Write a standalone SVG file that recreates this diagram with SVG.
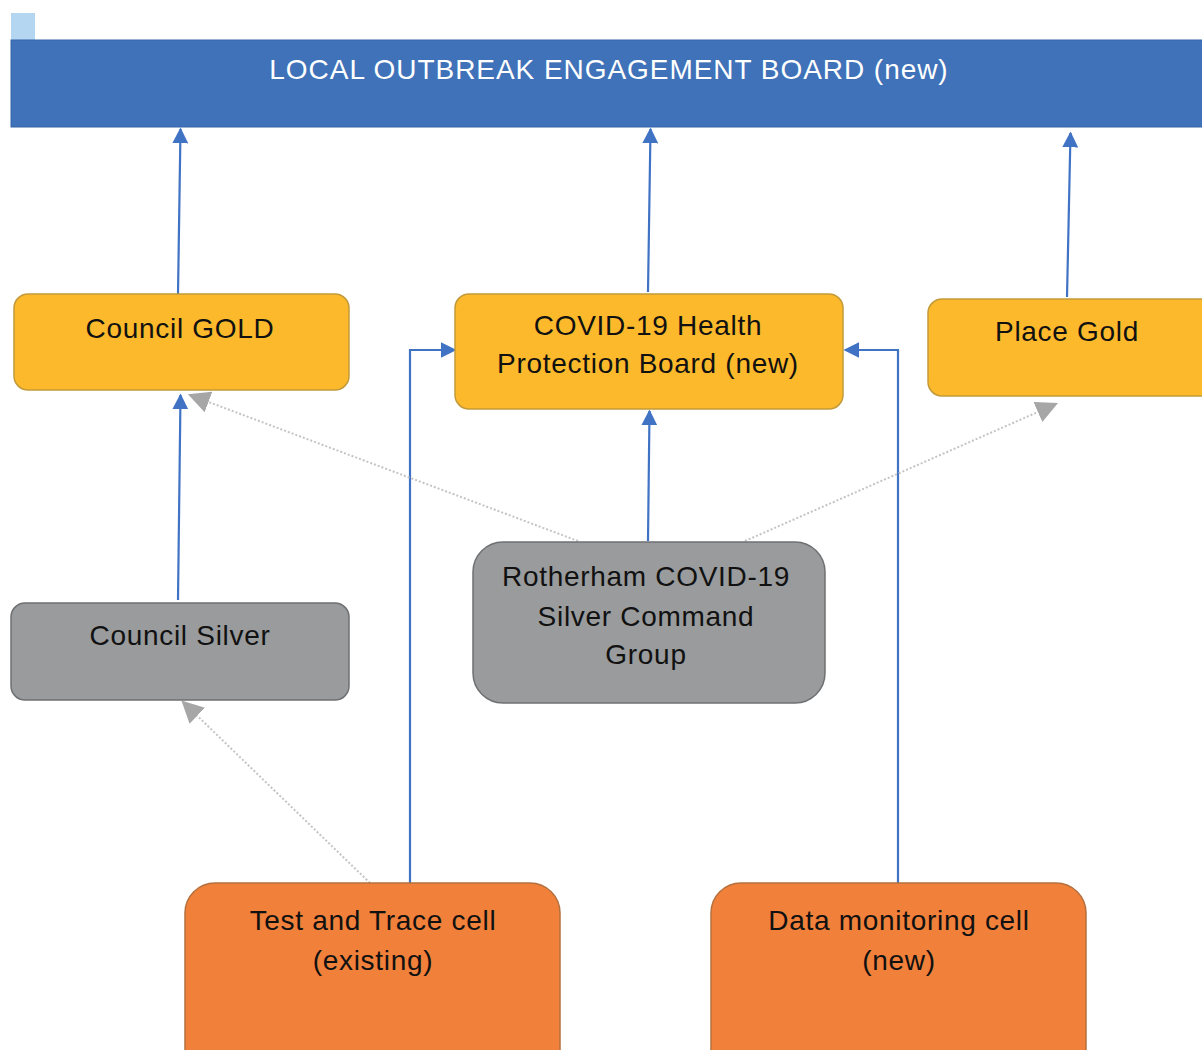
<svg xmlns="http://www.w3.org/2000/svg" width="1202" height="1050" viewBox="0 0 1202 1050">
<style>
text{font-family:"Liberation Sans",Arial,sans-serif;font-size:28px;letter-spacing:0.7px;fill:#111;text-anchor:middle}
.title{fill:#fff;font-size:28px;letter-spacing:0.95px}
.gold{fill:#fcb92b;stroke:#c29a3a;stroke-width:1.5}
.silver{fill:#999b9c;stroke:#6e7072;stroke-width:1.5}
.orange{fill:#f0803a;stroke:#b5703e;stroke-width:1.5}
.blue{fill:none;stroke:#4173c4;stroke-width:2.2}
.dot{fill:none;stroke:#c4c4c4;stroke-width:2;stroke-dasharray:2 2}
</style>
<defs>
<marker id="ab" viewBox="0 0 10 10" refX="9" refY="5" markerUnits="userSpaceOnUse" markerWidth="16" markerHeight="16" orient="auto"><path d="M0,0L10,5L0,10z" fill="#4173c4"/></marker>
<marker id="ag" viewBox="0 0 10 10" refX="9" refY="5" markerUnits="userSpaceOnUse" markerWidth="22" markerHeight="22" orient="auto"><path d="M0,0L10,5L0,10z" fill="#a6a6a6"/></marker>
</defs>
<rect width="1202" height="1050" fill="#fff"/>
<rect x="11" y="13" width="24" height="27" fill="#b5d6f0"/>
<g id="board">
<rect x="11" y="40" width="1195" height="87" fill="#3f72b8" stroke="#3565a8" stroke-width="1"/>
<text class="title" x="609" y="79">LOCAL OUTBREAK ENGAGEMENT BOARD (new)</text>
</g>
<g id="connectors">
<path class="blue" d="M178,294L180.5,129" marker-end="url(#ab)"/>
<path class="blue" d="M648,292L650.5,129" marker-end="url(#ab)"/>
<path class="blue" d="M1067,297L1070.5,133" marker-end="url(#ab)"/>
<path class="blue" d="M178,600L180.5,395" marker-end="url(#ab)"/>
<path class="blue" d="M648,541L649.5,411" marker-end="url(#ab)"/>
<path class="blue" d="M410,883L410,350L455,350" marker-end="url(#ab)"/>
<path class="blue" d="M898,883L898,350L845,350" marker-end="url(#ab)"/>
<path class="dot" d="M578,541L190,395" marker-end="url(#ag)"/>
<path class="dot" d="M745,541L1056,404" marker-end="url(#ag)"/>
<path class="dot" d="M370,883L183,702" marker-end="url(#ag)"/>
</g>
<g id="council-gold">
<rect class="gold" x="14" y="294" width="335" height="96" rx="14"/>
<text x="180" y="338">Council GOLD</text>
</g>
<g id="health-protection-board">
<rect class="gold" x="455" y="294" width="388" height="115" rx="14"/>
<text x="648" y="335">COVID-19 Health</text>
<text x="648" y="373">Protection Board (new)</text>
</g>
<g id="place-gold">
<rect class="gold" x="928" y="299" width="290" height="97" rx="14"/>
<text x="1067" y="341">Place Gold</text>
</g>
<g id="council-silver">
<rect class="silver" x="11" y="603" width="338" height="97" rx="14"/>
<text x="180" y="645">Council Silver</text>
</g>
<g id="rotherham-silver">
<rect class="silver" x="473" y="542" width="352" height="161" rx="30"/>
<text x="646" y="586">Rotherham COVID-19</text>
<text x="646" y="626">Silver Command</text>
<text x="646" y="664">Group</text>
</g>
<g id="test-trace">
<rect class="orange" x="185" y="883" width="375" height="200" rx="30"/>
<text x="373" y="930">Test and Trace cell</text>
<text x="373" y="970">(existing)</text>
</g>
<g id="data-monitoring">
<rect class="orange" x="711" y="883" width="375" height="200" rx="30"/>
<text x="899" y="930">Data monitoring cell</text>
<text x="899" y="970">(new)</text>
</g>
</svg>
